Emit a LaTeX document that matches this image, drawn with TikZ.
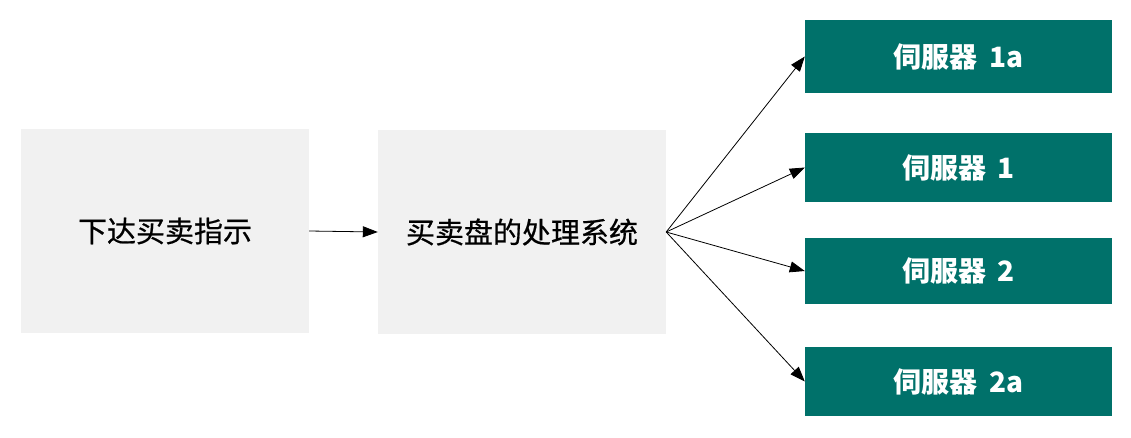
\documentclass[tikz,border=0pt]{standalone}
\usepackage{fontspec}
\newfontfamily\cjk{Noto Sans CJK SC}
\newfontfamily\cjkmed[FakeBold=0.6]{Noto Sans CJK SC}
\usetikzlibrary{arrows.meta}
\definecolor{teal1}{HTML}{00716A}
\definecolor{grey1}{HTML}{F1F1F1}
\tikzset{
  greybox/.style={fill=grey1, draw=none, inner sep=0pt, font=\cjkmed\fontsize{29}{33}\selectfont, text=black},
  tealbox/.style={fill=teal1, draw=none, inner sep=0pt, font=\cjk\bfseries\fontsize{28}{32}\selectfont, text=white},
  conn/.style={-{Triangle[length=15pt,width=11pt]}, line width=0.8pt, black}
}
\begin{document}
\begin{tikzpicture}[x=1pt,y=-1pt]
\useasboundingbox (0,0) rectangle (1131,437);
\node[greybox, minimum width=288pt, minimum height=204pt] (a) at (165,231) {下达买卖指示};
\node[greybox, minimum width=288pt, minimum height=204pt] (b) at (522,232) {买卖盘的处理系统};
\node[tealbox, minimum width=307pt, minimum height=73pt] (s1a) at (958.5,56.5) {伺服器\hspace{0.4em}1a};
\node[tealbox, minimum width=307pt, minimum height=69pt] (s1) at (958.5,167.5) {伺服器\hspace{0.4em}1};
\node[tealbox, minimum width=307pt, minimum height=66pt] (s2) at (958.5,271) {伺服器\hspace{0.4em}2};
\node[tealbox, minimum width=307pt, minimum height=69pt] (s2a) at (958.5,381.5) {伺服器\hspace{0.4em}2a};
\draw[conn] (a.east) -- (b.west);
\draw[conn] (b.east) -- (s1a.west);
\draw[conn] (b.east) -- (s1.west);
\draw[conn] (b.east) -- (s2.west);
\draw[conn] (b.east) -- (s2a.west);
\end{tikzpicture}
\end{document}
